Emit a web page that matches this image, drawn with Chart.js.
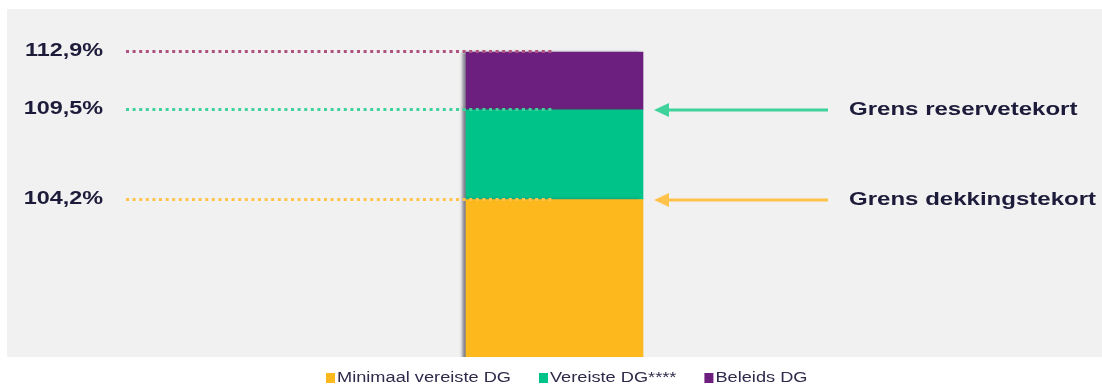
<!DOCTYPE html>
<html>
<head>
<meta charset="utf-8">
<script src="https://cdn.jsdelivr.net/npm/chart.js@4"></script>
<style>
  html, body { margin: 0; padding: 0; background: #ffffff; }
  #chart { display: block; }
</style>
</head>
<body>
<canvas id="chart" width="1102" height="390"></canvas>
<script>
// chart data
const categories = [''];
const seriesNames = ['Minimaal vereiste DG', 'Vereiste DG****', 'Beleids DG'];
const minimaalDG = [104.2];
const vereisteDG = [5.3];
const beleidsDG = [3.4];
const levelLabels = ['104,2%', '109,5%', '112,9%'];
const boundaryTexts = ['Grens dekkingstekort', 'Grens reservetekort'];

const barColors = ['#fdb81e', '#00c389', '#6d1f7f'];
const dotColors = ['#ffc24a', '#3fd29b', '#b0527f'];

// cumulative levels from the stacked values
const levels = [
    minimaalDG[0],
    minimaalDG[0] + vereisteDG[0],
    minimaalDG[0] + vereisteDG[0] + beleidsDG[0]
];

const FONT = '"Liberation Sans", Arial, sans-serif';
const TEXT_COLOR = '#1d1b3a';
const STRETCH = 1.3; // the source picture is widened horizontally

// grey panel behind the plot + shadow on the bar
const backgroundPlugin = {
    id: 'panel',
    beforeDraw(chart) {
        const { ctx, chartArea } = chart;
        ctx.save();
        ctx.fillStyle = '#f1f1f1';
        ctx.fillRect(chartArea.left, chartArea.top, chartArea.right - chartArea.left, chartArea.bottom - chartArea.top);
        ctx.restore();
    },
    beforeDatasetsDraw(chart) {
        const ctx = chart.ctx;
        ctx.save();
        ctx.shadowColor = 'rgba(70, 70, 90, 0.7)';
        ctx.shadowOffsetX = -4;
        ctx.shadowBlur = 3;
    },
    afterDatasetsDraw(chart) {
        chart.ctx.restore();
    }
};

function stretchedText(ctx, text, x, y, align, sx) {
    ctx.save();
    ctx.translate(x, y);
    ctx.scale(sx, 1);
    ctx.textAlign = align;
    ctx.fillText(text, 0, 0);
    ctx.restore();
}

// dotted level lines, labels and arrows
const annotationPlugin = {
    id: 'levels',
    afterDatasetsDraw(chart) {
        const { ctx } = chart;
        const yScale = chart.scales.y;
        const bar = chart.getDatasetMeta(0).data[0];
        const barRight = bar.x + bar.width / 2;

        ctx.save();
        levels.forEach((v, i) => {
            const y = Math.round(yScale.getPixelForValue(v)) - 0.5;
            ctx.strokeStyle = dotColors[i];
            ctx.lineWidth = 3;
            ctx.setLineDash([3, 3.6]);
            ctx.beginPath();
            ctx.moveTo(126, y);
            ctx.lineTo(bar.x, y);
            ctx.stroke();

            ctx.fillStyle = TEXT_COLOR;
            ctx.font = 'bold 18px ' + FONT;
            ctx.textBaseline = 'middle';
            stretchedText(ctx, levelLabels[i], 103, y, 'right', STRETCH);
        });

        ctx.setLineDash([]);
        [0, 1].forEach(i => {
            const y = Math.round(yScale.getPixelForValue(levels[i]));
            const tip = barRight + 11;
            const color = dotColors[i];
            ctx.strokeStyle = color;
            ctx.fillStyle = color;
            ctx.lineWidth = 3;
            ctx.beginPath();
            ctx.moveTo(828, y);
            ctx.lineTo(tip + 10, y);
            ctx.stroke();
            ctx.beginPath();
            ctx.moveTo(tip, y);
            ctx.lineTo(tip + 15, y - 7);
            ctx.lineTo(tip + 15, y + 7);
            ctx.closePath();
            ctx.fill();

            ctx.fillStyle = TEXT_COLOR;
            ctx.font = 'bold 19px ' + FONT;
            ctx.textBaseline = 'middle';
            stretchedText(ctx, boundaryTexts[i], 849, y, 'left', 1.265);
        });
        ctx.restore();
    }
};

// legend under the panel, built from the datasets
const legendPlugin = {
    id: 'bottomLegend',
    afterDraw(chart) {
        const { ctx } = chart;
        const y = 378;
        let x = 326;
        ctx.save();
        ctx.font = '14px ' + FONT;
        ctx.textBaseline = 'middle';
        chart.data.datasets.forEach(ds => {
            ctx.fillStyle = ds.backgroundColor;
            ctx.fillRect(x, y - 5, 9, 10);
            ctx.fillStyle = '#2e2a4a';
            stretchedText(ctx, ds.label, x + 11, y, 'left', STRETCH);
            x += 11 + ctx.measureText(ds.label).width * STRETCH + 28;
        });
        ctx.restore();
    }
};

const chart = new Chart(document.getElementById('chart'), {
    type: 'bar',
    data: {
        labels: categories,
        datasets: [
            { label: seriesNames[0], data: minimaalDG, backgroundColor: barColors[0] },
            { label: seriesNames[1], data: vereisteDG, backgroundColor: barColors[1] },
            { label: seriesNames[2], data: beleidsDG, backgroundColor: barColors[2] }
        ]
    },
    options: {
        responsive: false,
        animation: false,
        layout: {
            padding: { left: 7, top: 9, right: 0, bottom: 33 }
        },
        datasets: {
            bar: {
                barThickness: 177,
                borderWidth: 0
            }
        },
        plugins: {
            legend: { display: false },
            tooltip: { enabled: false }
        },
        scales: {
            x: {
                stacked: true,
                display: false
            },
            y: {
                stacked: true,
                display: false,
                min: 94.9,
                max: 115.45
            }
        }
    },
    plugins: [backgroundPlugin, annotationPlugin, legendPlugin]
});
</script>
</body>
</html>
